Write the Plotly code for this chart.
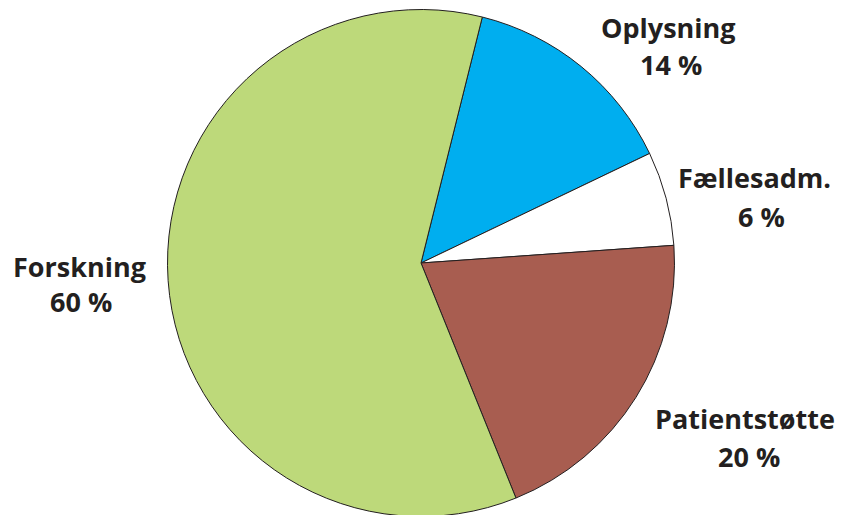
import plotly.graph_objects as go

categories = ["Oplysning", "Fællesadm.", "Patientstøtte", "Forskning"]
values = [14, 6, 20, 60]
pct_labels = ["14 %", "6 %", "20 %", "60 %"]
colors = ["#00AEEF", "#FFFFFF", "#A85D50", "#BDD97A"]

W, H = 843, 515
OFF = 8  # browser body margin offset
# label centre positions in reference pixels (name line, pct line)
label_pos = {
    "Oplysning": ((668, 27), (671, 64)),
    "Fællesadm.": ((754, 177), (761, 216)),
    "Patientstøtte": ((745, 418), (749, 456)),
    "Forskning": ((79, 266), (81, 301)),
}

# pie centre and radius in reference pixels
cx, cy, r = 421 - OFF, 263 - OFF, 253.5

fig = go.Figure(go.Pie(
    labels=categories,
    values=values,
    sort=False,
    direction="clockwise",
    rotation=14,
    marker=dict(colors=colors, line=dict(color="#231F20", width=1)),
    textinfo="none",
    hoverinfo="label+percent",
    showlegend=False,
    domain=dict(x=[(cx - r) / W, (cx + r) / W],
                y=[max(0, (H - (cy + r)) / H), (H - (cy - r)) / H]),
))

font = dict(family="Open Sans", size=27, color="#231F20")
anns = []
for cat, pct in zip(categories, pct_labels):
    (nx, ny), (px, py) = label_pos[cat]
    for txt, x, y in ((cat, nx, ny), (pct, px, py)):
        anns.append(dict(text=f"<b>{txt}</b>", x=(x - OFF) / W, y=1 - (y - OFF) / H,
                         xref="paper", yref="paper", showarrow=False,
                         xanchor="center", yanchor="middle", font=font))

fig.update_layout(
    width=W, height=H,
    margin=dict(l=0, r=0, t=0, b=0),
    paper_bgcolor="white",
    annotations=anns,
)

fig.write_html("out.html")
